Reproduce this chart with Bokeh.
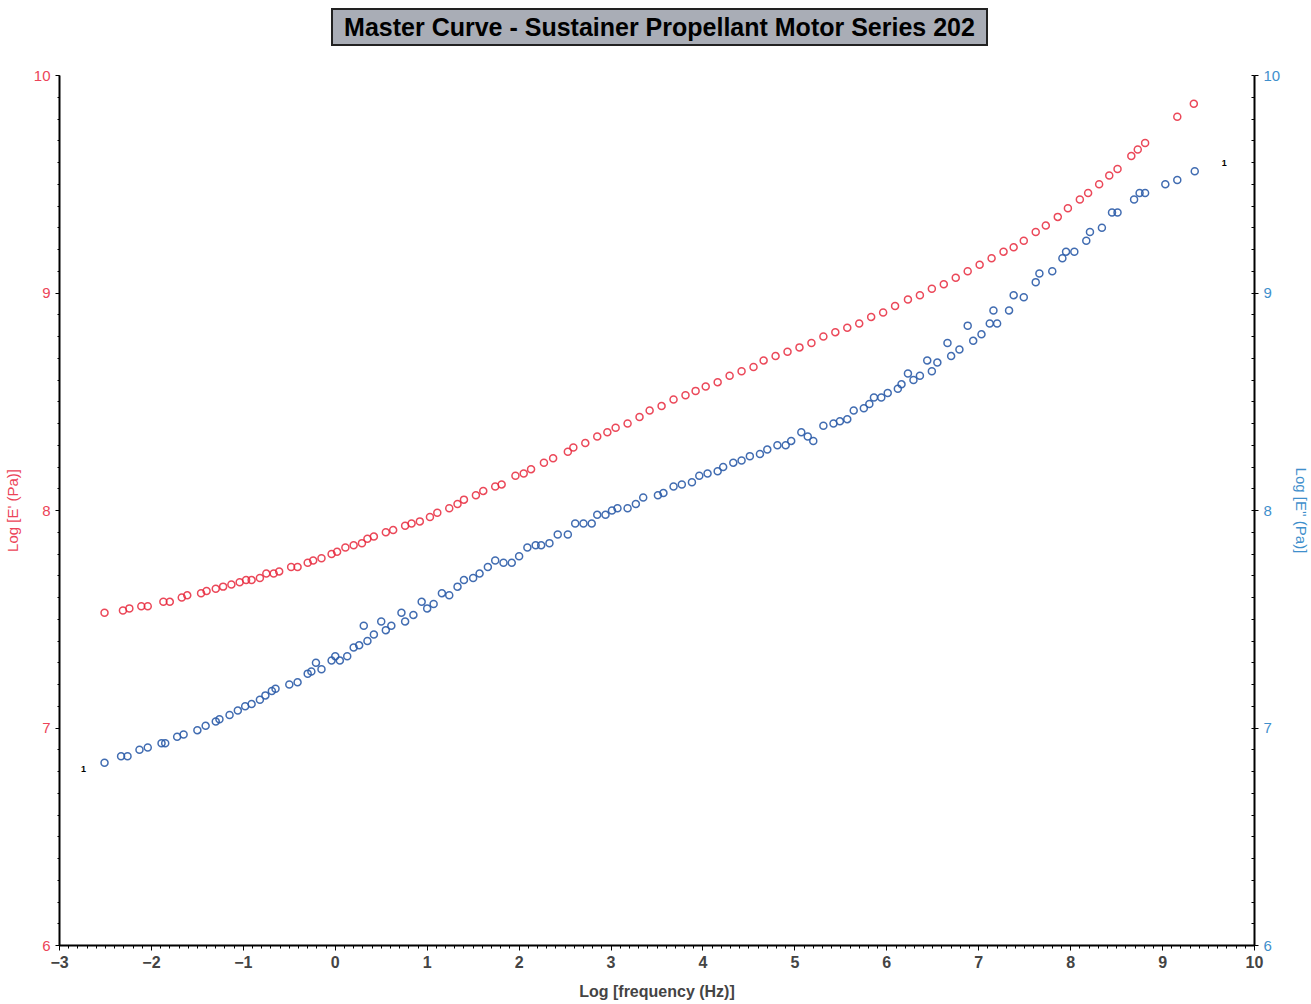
from bokeh.plotting import figure
from bokeh.models import Range1d, LinearAxis, Label, FixedTicker, Div
from bokeh.layouts import column
from bokeh.embed import file_html
from bokeh.resources import INLINE
import numpy as np

# Log frequency (Hz) and Log E' (Pa) - storage modulus (left axis)
e1_x = [-2.51, -2.31, -2.24, -2.11, -2.04, -1.87, -1.80, -1.67, -1.61, -1.46, -1.40, -1.30, -1.22,
        -1.13, -1.04, -0.97, -0.91, -0.82, -0.75, -0.67, -0.61, -0.48, -0.41, -0.30, -0.24, -0.15,
        -0.04, 0.02, 0.11, 0.20, 0.29, 0.35, 0.42, 0.55, 0.63, 0.76, 0.83, 0.92, 1.03, 1.11, 1.24,
        1.33, 1.40, 1.53, 1.61, 1.74, 1.81, 1.96, 2.05, 2.13, 2.27, 2.37, 2.53, 2.59, 2.72, 2.85,
        2.96, 3.05, 3.18, 3.31, 3.42, 3.55, 3.68, 3.81, 3.92, 4.03, 4.16, 4.29, 4.42, 4.55, 4.66,
        4.79, 4.92, 5.05, 5.18, 5.31, 5.44, 5.57, 5.70, 5.83, 5.96, 6.09, 6.23, 6.36, 6.49, 6.62,
        6.75, 6.88, 7.01, 7.14, 7.27, 7.38, 7.49, 7.62, 7.73, 7.86, 7.97, 8.10, 8.19, 8.31, 8.42,
        8.51, 8.66, 8.73, 8.81, 9.16, 9.34]
e1_y = [7.53, 7.54, 7.55, 7.56, 7.56, 7.58, 7.58, 7.60, 7.61, 7.62, 7.63, 7.64, 7.65,
        7.66, 7.67, 7.68, 7.68, 7.69, 7.71, 7.71, 7.72, 7.74, 7.74, 7.76, 7.77, 7.78,
        7.80, 7.81, 7.83, 7.84, 7.85, 7.87, 7.88, 7.90, 7.91, 7.93, 7.94, 7.95, 7.97, 7.99, 8.01,
        8.03, 8.05, 8.07, 8.09, 8.11, 8.12, 8.16, 8.17, 8.19, 8.22, 8.24, 8.27, 8.29, 8.31, 8.34,
        8.36, 8.38, 8.40, 8.43, 8.46, 8.48, 8.51, 8.53, 8.55, 8.57, 8.59, 8.62, 8.64, 8.66, 8.69,
        8.71, 8.73, 8.75, 8.77, 8.80, 8.82, 8.84, 8.86, 8.89, 8.91, 8.94, 8.97, 8.99, 9.02, 9.04,
        9.07, 9.10, 9.13, 9.16, 9.19, 9.21, 9.24, 9.28, 9.31, 9.35, 9.39, 9.43, 9.46, 9.50, 9.54,
        9.57, 9.63, 9.66, 9.69, 9.81, 9.87]

# Log E'' (Pa) - loss modulus (right axis)
e2_x = [-2.51, -2.33, -2.26, -2.13, -2.04, -1.89, -1.85, -1.72, -1.65, -1.50, -1.41, -1.30, -1.26,
        -1.15, -1.06, -0.98, -0.91, -0.82, -0.76, -0.69, -0.65, -0.50, -0.41, -0.30, -0.26, -0.21,
        -0.15, -0.04, 0.00, 0.05, 0.13, 0.20, 0.26, 0.31, 0.35, 0.42, 0.50, 0.55, 0.61, 0.72, 0.76,
        0.85, 0.94, 1.00, 1.07, 1.16, 1.24, 1.33, 1.40, 1.50, 1.57, 1.66, 1.74, 1.83, 1.92, 2.00,
        2.09, 2.18, 2.24, 2.33, 2.42, 2.53, 2.61, 2.70, 2.79, 2.85, 2.94, 3.01, 3.07, 3.18, 3.27,
        3.35, 3.51, 3.57, 3.68, 3.77, 3.88, 3.96, 4.05, 4.16, 4.22, 4.33, 4.42, 4.51, 4.62, 4.70,
        4.81, 4.90, 4.96, 5.07, 5.14, 5.20, 5.31, 5.42, 5.49, 5.57, 5.64, 5.75, 5.81, 5.86, 5.94,
        6.01, 6.12, 6.16, 6.23, 6.29, 6.36, 6.44, 6.49, 6.55, 6.66, 6.70, 6.79, 6.88, 6.94, 7.03,
        7.12, 7.16, 7.20, 7.33, 7.38, 7.49, 7.62, 7.66, 7.80, 7.91, 7.95, 8.04, 8.17, 8.21, 8.34,
        8.45, 8.51, 8.69, 8.75, 8.81, 9.03, 9.16, 9.35]
e2_y = [6.84, 6.87, 6.87, 6.90, 6.91, 6.93, 6.93, 6.96, 6.97, 6.99, 7.01, 7.03, 7.04,
        7.06, 7.08, 7.10, 7.11, 7.13, 7.15, 7.17, 7.18, 7.20, 7.21, 7.25, 7.26, 7.30,
        7.27, 7.31, 7.33, 7.31, 7.33, 7.37, 7.38, 7.47, 7.40, 7.43, 7.49, 7.45, 7.47, 7.53, 7.49,
        7.52, 7.58, 7.55, 7.57, 7.62, 7.61, 7.65, 7.68, 7.69, 7.71, 7.74, 7.77, 7.76, 7.76, 7.79,
        7.83, 7.84, 7.84, 7.85, 7.89, 7.89, 7.94, 7.94, 7.94, 7.98, 7.98, 8.00, 8.01, 8.01, 8.03,
        8.06, 8.07, 8.08, 8.11, 8.12, 8.13, 8.16, 8.17, 8.18, 8.20, 8.22, 8.23, 8.25, 8.26, 8.28,
        8.30, 8.30, 8.32, 8.36, 8.34, 8.32, 8.39, 8.40, 8.41, 8.42, 8.46, 8.47, 8.49, 8.52, 8.52,
        8.54, 8.56, 8.58, 8.63, 8.60, 8.62, 8.69, 8.64, 8.68, 8.77, 8.71, 8.74, 8.85, 8.78, 8.81,
        8.86, 8.92, 8.86, 8.92, 8.99, 8.98, 9.05, 9.09, 9.10, 9.16, 9.19, 9.19, 9.24, 9.28, 9.30,
        9.37, 9.37, 9.43, 9.46, 9.46, 9.50, 9.52, 9.56]

x_ticks = list(range(-3, 11))
y_ticks = [6, 7, 8, 9, 10]
TITLE = "Master Curve - Sustainer Propellant Motor Series 202"

RED = "#e8283c"
BLUE = "#2c5ca8"
RED_TXT = "#ec4458"
BLUE_TXT = "#3f8fcc"
FONT = "Liberation Sans"

x_minor = [round(v, 2) for v in np.arange(-3, 10.001, 0.1)]
y_minor = [round(v, 2) for v in np.arange(6, 10.001, 0.1)]

title_div = Div(text=TITLE, width=657, height=38, margin=(8, 0, 0, 331),
                styles={"background-color": "#a9adb6", "border": "2px solid #222222",
                        "box-sizing": "border-box", "font-family": "Liberation Sans",
                        "font-weight": "bold", "font-size": "25px", "color": "black",
                        "text-align": "center", "line-height": "34px",
                        "white-space": "nowrap"})

p = figure(width=1303, height=949, frame_width=1195, frame_height=870,
           x_range=Range1d(-3, 10), y_range=Range1d(6, 10),
           output_backend="svg", toolbar_location=None,
           min_border_left=58, min_border_right=50, min_border_top=29, min_border_bottom=50)
p.extra_y_ranges = {"right": Range1d(6, 10)}

p.grid.visible = False
p.outline_line_color = None
p.background_fill_color = "white"

xa = p.xaxis[0]
xa.ticker = FixedTicker(ticks=x_ticks, minor_ticks=x_minor)
xa.axis_label = "Log [frequency (Hz)]"
xa.axis_label_text_font = FONT
xa.axis_label_text_font_style = "bold"
xa.axis_label_text_font_size = "16px"
xa.axis_label_standoff = 12
xa.major_label_text_font = FONT
xa.major_label_text_font_style = "bold"
xa.major_label_text_font_size = "16px"
xa.axis_line_width = 2
xa.major_tick_out = 5
xa.major_tick_in = 0
xa.minor_tick_out = 3
xa.minor_tick_in = 0

ya = p.yaxis[0]
ya.ticker = FixedTicker(ticks=y_ticks, minor_ticks=y_minor)
ya.axis_label = "Log [E' (Pa)]"
ya.axis_label_text_color = RED_TXT
ya.axis_label_text_font = FONT
ya.axis_label_text_font_style = "normal"
ya.axis_label_text_font_size = "15px"
ya.axis_label_standoff = 10
ya.major_label_text_color = RED_TXT
ya.major_label_text_font = FONT
ya.major_label_text_font_size = "15px"
ya.axis_line_width = 2
ya.major_tick_out = 4
ya.major_tick_in = 0
ya.minor_tick_out = 2
ya.minor_tick_in = 0

ra = LinearAxis(y_range_name="right", ticker=FixedTicker(ticks=y_ticks, minor_ticks=y_minor))
ra.axis_label = "Log [E'' (Pa)]"
ra.axis_label_text_color = BLUE_TXT
ra.axis_label_text_font = FONT
ra.axis_label_text_font_style = "normal"
ra.axis_label_text_font_size = "15px"
ra.axis_label_standoff = 10
ra.major_label_text_color = BLUE_TXT
ra.major_label_text_font = FONT
ra.major_label_text_font_size = "15px"
ra.axis_line_width = 2
ra.major_tick_out = 4
ra.major_tick_in = 0
ra.minor_tick_out = 0
ra.minor_tick_in = 3
p.add_layout(ra, "right")

p.scatter(e1_x, e1_y, marker="circle", size=7, fill_color=None,
          line_color=RED, line_width=1.5, line_alpha=0.85)
p.scatter(e2_x, e2_y, marker="circle", size=7, fill_color=None,
          line_color=BLUE, line_width=1.5, line_alpha=0.9, y_range_name="right")

p.add_layout(Label(x=-2.74, y=6.81, text="1", text_font=FONT, text_font_size="9px",
                   text_font_style="bold", text_color="black", text_align="center",
                   text_baseline="middle"))
p.add_layout(Label(x=9.67, y=9.60, text="1", text_font=FONT, text_font_size="9px",
                   text_font_style="bold", text_color="black", text_align="center",
                   text_baseline="middle"))

layout = column(title_div, p, spacing=0)
open("out.html", "w").write(file_html(layout, INLINE))
